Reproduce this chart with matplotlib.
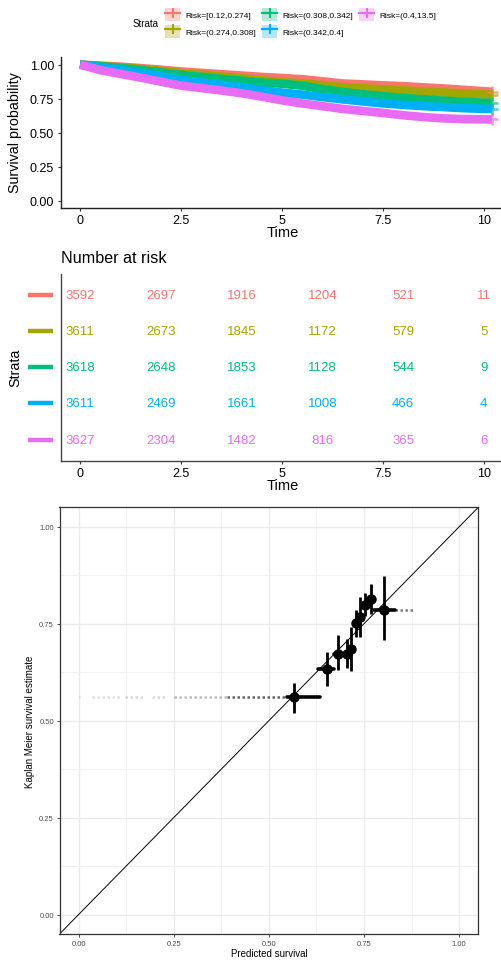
import matplotlib
matplotlib.use('Agg')

import matplotlib.pyplot as plt
import matplotlib.transforms as mtransforms
from matplotlib.lines import Line2D
from matplotlib.patches import Patch

plt.rcParams['font.family'] = ['Liberation Sans', 'DejaVu Sans']

# Strata (risk groups) and ggplot hue colours
strata = ['Risk=[0.12,0.274]', 'Risk=(0.274,0.308]', 'Risk=(0.308,0.342]',
          'Risk=(0.342,0.4]', 'Risk=(0.4,13.5]']
colours = ['#F8766D', '#A3A500', '#00BF7D', '#00B0F6', '#E76BF3']

# Survival curves
times = [0, 0.5, 1, 1.5, 2, 2.5, 3, 3.5, 4, 4.5, 5, 5.5, 6, 6.5, 7, 7.5,
         8, 8.5, 9, 9.5, 10, 10.2]
surv_red = [1.0, 0.993, 0.985, 0.975, 0.963, 0.950, 0.940, 0.930, 0.920, 0.910,
            0.902, 0.893, 0.878, 0.862, 0.855, 0.848, 0.842, 0.833, 0.825,
            0.815, 0.805, 0.800]
surv_olive = [1.0, 0.990, 0.980, 0.968, 0.953, 0.937, 0.925, 0.912, 0.900, 0.885,
              0.872, 0.862, 0.848, 0.835, 0.825, 0.818, 0.810, 0.802, 0.795,
              0.788, 0.780, 0.780]
surv_green = [1.0, 0.988, 0.975, 0.960, 0.943, 0.924, 0.910, 0.895, 0.882, 0.868,
              0.860, 0.845, 0.820, 0.800, 0.782, 0.768, 0.755, 0.745, 0.735,
              0.728, 0.720, 0.720]
surv_blue = [1.0, 0.980, 0.962, 0.940, 0.915, 0.887, 0.870, 0.852, 0.835, 0.812,
             0.795, 0.780, 0.762, 0.745, 0.730, 0.715, 0.705, 0.695, 0.688,
             0.680, 0.675, 0.675]
surv_magenta = [1.0, 0.960, 0.932, 0.905, 0.875, 0.846, 0.828, 0.810, 0.790, 0.765,
                0.738, 0.715, 0.695, 0.675, 0.660, 0.645, 0.628, 0.615, 0.605,
                0.600, 0.598, 0.598]
surv = [surv_red, surv_olive, surv_green, surv_blue, surv_magenta]

# Number at risk table
risk_times = [0, 2, 4, 6, 8, 10]
at_risk = [[3592, 2697, 1916, 1204, 521, 11],
           [3611, 2673, 1845, 1172, 579, 5],
           [3618, 2648, 1853, 1128, 544, 9],
           [3611, 2469, 1661, 1008, 466, 4],
           [3627, 2304, 1482, 816, 365, 6]]

# Calibration groups
pred = [0.567, 0.653, 0.682, 0.704, 0.715, 0.729, 0.739, 0.753, 0.768, 0.803]
km = [0.560, 0.634, 0.673, 0.673, 0.684, 0.751, 0.768, 0.799, 0.814, 0.785]
km_lo = [0.520, 0.589, 0.631, 0.636, 0.628, 0.716, 0.716, 0.769, 0.776, 0.708]
km_hi = [0.597, 0.677, 0.720, 0.711, 0.742, 0.785, 0.819, 0.830, 0.853, 0.872]
pred_lo = [0.547, 0.630, 0.672, 0.695, 0.710, 0.724, 0.735, 0.745, 0.760, 0.777]
pred_hi = [0.634, 0.672, 0.692, 0.710, 0.722, 0.735, 0.745, 0.760, 0.775, 0.830]
# sparse individual predictions (faint) in first and last group
tail_lo = [0.0, 0.035, 0.123, 0.192, 0.25, 0.39, 0.83]
tail_hi = [0.004, 0.11, 0.175, 0.232, 0.39, 0.547, 0.88]
tail_y = [0.560, 0.560, 0.560, 0.560, 0.560, 0.560, 0.785]
tail_alpha = [0.15, 0.12, 0.15, 0.15, 0.25, 0.6, 0.5]

W, H = 501, 962
fig = plt.figure(figsize=(W / 100, H / 100), dpi=100)


def box(l, t, r, b):
    return [l / W, 1 - b / H, (r - l) / W, (b - t) / H]


# ---------------- survival curves ----------------
ax1 = fig.add_axes(box(61, 57.5, 500, 208.5))
for s, c in zip(surv, colours):
    ax1.plot(times, s, color=c, lw=6.2, solid_capstyle='butt', solid_joinstyle='miter')
for s, c in zip(surv, colours):
    ax1.plot(times[-1], s[-1], marker='+', color=c, ms=9, mew=1.8, alpha=0.7)
ax1.set_xlim(-0.47, 10.4)
ax1.set_ylim(-0.05, 1.06)
ax1.set_xticks([0, 2.5, 5, 7.5, 10])
ax1.set_xticklabels(['0', '2.5', '5', '7.5', '10'])
ax1.set_yticks([0, 0.25, 0.5, 0.75, 1.0])
ax1.set_yticklabels(['0.00', '0.25', '0.50', '0.75', '1.00'])
ax1.tick_params(labelsize=9, length=2.5, width=0.8, color='#333333', pad=2.5)
for sp in ['top', 'right']:
    ax1.spines[sp].set_visible(False)
for sp in ['left', 'bottom']:
    ax1.spines[sp].set_linewidth(1.0)
    ax1.spines[sp].set_color('#222222')
ax1.set_xlabel('Time', fontsize=10.5)
ax1.xaxis.set_label_coords((283 - 61) / 439, (208.5 - 226) / 151)
ax1.set_ylabel('Survival probability', fontsize=10.3)
ax1.yaxis.set_label_coords((22 - 61) / 439, 0.5)

# legend on top
handles = [(Patch(facecolor=c, alpha=0.3, edgecolor='none'),
            Line2D([], [], color=c, lw=1.6, marker='+', ms=7, mew=1.4))
           for c in colours]
fig.legend(handles, strata, loc='upper left', bbox_to_anchor=(165 / W, 1 - 9 / H),
           ncol=3, frameon=False, fontsize=6, handlelength=1.85, handleheight=2.0,
           handletextpad=0.6, columnspacing=0.7, labelspacing=0.45, borderpad=0,
           borderaxespad=0)
fig.text(133 / W, 1 - 24 / H, 'Strata', fontsize=7, ha='left', va='center')

# ---------------- number at risk ----------------
ax2 = fig.add_axes(box(61, 275, 500, 461.5))
rows = [5, 4, 3, 2, 1]
for row, counts, c in zip(rows, at_risk, colours):
    for t, n in zip(risk_times, counts):
        ax2.text(t, row, str(n), color=c, fontsize=9.5, ha='center', va='center')
trans = mtransforms.blended_transform_factory(ax2.transAxes, ax2.transData)
for row, c in zip(rows, colours):
    ax2.plot([(28 - 61) / 439, (53 - 61) / 439], [row, row], color=c, lw=3.2,
             transform=trans, clip_on=False, solid_capstyle='butt')
ax2.set_xlim(-0.47, 10.4)
ax2.set_ylim(0.42, 5.58)
ax2.set_yticks([])
ax2.set_xticks([0, 2.5, 5, 7.5, 10])
ax2.set_xticklabels(['0', '2.5', '5', '7.5', '10'])
ax2.tick_params(labelsize=9, length=2.5, width=0.8, color='#333333', pad=2.5)
for sp in ['top', 'right']:
    ax2.spines[sp].set_visible(False)
for sp in ['left', 'bottom']:
    ax2.spines[sp].set_linewidth(1.0)
    ax2.spines[sp].set_color('#444444')
ax2.set_xlabel('Time', fontsize=10.5)
ax2.xaxis.set_label_coords((283 - 61) / 439, (461.5 - 479.5) / 186.5)
ax2.set_ylabel('Strata', fontsize=10.3)
ax2.yaxis.set_label_coords((22 - 61) / 439, 0.5)
ax2.text(0.0, (461.5 - 259) / 186.5, 'Number at risk', transform=ax2.transAxes,
         fontsize=11.6, ha='left', va='center')

# ---------------- calibration ----------------
ax3 = fig.add_axes(box(59.5, 508.3, 478.3, 935))
ax3.set_xlim(-0.05, 1.05)
ax3.set_ylim(-0.05, 1.05)
ticks = [0, 0.25, 0.5, 0.75, 1.0]
minor = [0.125, 0.375, 0.625, 0.875]
ax3.set_xticks(ticks)
ax3.set_yticks(ticks)
ax3.set_xticks(minor, minor=True)
ax3.set_yticks(minor, minor=True)
ax3.set_xticklabels(['0.00', '0.25', '0.50', '0.75', '1.00'])
ax3.set_yticklabels(['0.00', '0.25', '0.50', '0.75', '1.00'])
ax3.grid(which='major', color='#EBEBEB', lw=1.0)
ax3.grid(which='minor', color='#F2F2F2', lw=0.7)
ax3.set_axisbelow(True)
ax3.tick_params(which='major', labelsize=5.5, labelcolor='#4D4D4D', length=2,
                width=0.6, color='#333333', pad=2)
ax3.tick_params(which='minor', length=0)
for sp in ax3.spines.values():
    sp.set_color('#333333')
    sp.set_linewidth(0.9)
ax3.axline((0, 0), slope=1, color='black', lw=0.7, zorder=2)
for lo, hi, y, a in zip(tail_lo, tail_hi, tail_y, tail_alpha):
    ax3.plot([lo, hi], [y, y], color='black', lw=1.8, alpha=a, ls=(0, (1, 1)),
             solid_capstyle='butt', zorder=3)
for p, k, kl, kh, pl, ph in zip(pred, km, km_lo, km_hi, pred_lo, pred_hi):
    ax3.plot([pl, ph], [k, k], color='black', lw=2.6, solid_capstyle='round', zorder=4)
    ax3.plot([p, p], [kl, kh], color='black', lw=2.0, solid_capstyle='butt', zorder=4)
    ax3.plot(p, k, 'o', color='black', ms=6.5, zorder=5)
ax3.set_xlabel('Predicted survival', fontsize=7)
ax3.xaxis.set_label_coords((269 - 59.5) / 418.8, (935 - 949) / 426.7)
ax3.set_ylabel('Kaplan Meier survival estimate', fontsize=7)
ax3.yaxis.set_label_coords((35 - 59.5) / 418.8, 0.5)

fig.savefig('out.png', dpi=100)
